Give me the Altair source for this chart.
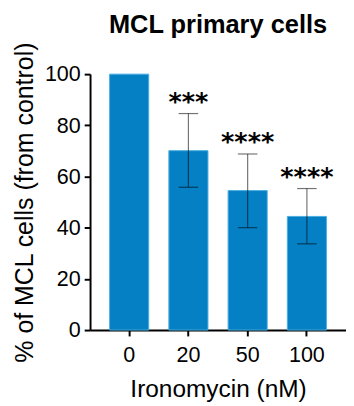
import altair as alt
import pandas as pd

conc = ["0", "20", "50", "100"]
mean = [100, 70.1, 54.5, 44.4]
err_low = [None, 55.8, 40.0, 33.7]
err_high = [None, 84.6, 68.8, 55.3]
stars = ["", "***", "****", "****"]

df = pd.DataFrame({"conc": conc, "mean": mean, "lo": err_low, "hi": err_high, "stars": stars})
df_err = df.dropna()

FONT = "Liberation Sans"
BLUE = "#0580c5"

x_enc = alt.X(
    "conc:N", sort=conc, title="Ironomycin (nM)",
    scale=alt.Scale(paddingInner=0.34, paddingOuter=0.33),
    axis=alt.Axis(labelAngle=0, labelFontSize=22, titleFontSize=25, labelFont=FONT, titleFont=FONT,
                  titleFontWeight="normal", labelColor="black", titleColor="black",
                  domainColor="black", domainWidth=2, tickColor="black", tickWidth=2, tickSize=6,
                  labelPadding=9, titlePadding=12),
)
y_scale = alt.Scale(domain=[0, 100], nice=False)

bars = alt.Chart(df).mark_bar(color=BLUE, stroke="#4aaee0", strokeWidth=1).encode(
    x=x_enc,
    y=alt.Y("mean:Q", scale=y_scale, title="% of MCL cells (from control)",
            axis=alt.Axis(values=[0, 20, 40, 60, 80, 100], labelFontSize=22, titleFontSize=25.5,
                          labelFont=FONT, titleFont=FONT, titleFontWeight="normal",
                          labelColor="black", titleColor="black", domainColor="black", domainWidth=2,
                          tickColor="black", tickWidth=2, tickSize=6, labelPadding=4, grid=False,
                          titlePadding=7)),
)

rule = alt.Chart(df_err).mark_rule(color="black", opacity=0.55, strokeWidth=1.2).encode(
    x=alt.X("conc:N", sort=conc), y=alt.Y("lo:Q", scale=y_scale), y2="hi:Q"
)
cap_hi = alt.Chart(df_err).mark_tick(color="black", opacity=0.55, thickness=1.2, size=20).encode(
    x=alt.X("conc:N", sort=conc), y=alt.Y("hi:Q", scale=y_scale)
)
cap_lo = alt.Chart(df_err).mark_tick(color="black", opacity=0.55, thickness=1.2, size=20).encode(
    x=alt.X("conc:N", sort=conc), y=alt.Y("lo:Q", scale=y_scale)
)
txt = alt.Chart(df_err).mark_text(font="DejaVu Sans", fontWeight="bold", fontSize=26,
                                   baseline="alphabetic", dy=-4, color="black").encode(
    x=alt.X("conc:N", sort=conc), y=alt.Y("hi:Q", scale=y_scale), text="stars:N"
)

chart = alt.layer(bars, rule, cap_hi, cap_lo, txt).properties(
    width=262, height=262,
    title=alt.TitleParams("MCL primary cells", fontSize=26, font=FONT, fontWeight="bold",
                          anchor="middle", frame="group", offset=4, color="black"),
    autosize=alt.AutoSizeParams(type="none"),
    padding={"left": 84, "top": 63, "right": 0, "bottom": 72},
).configure_view(stroke=None)

chart.save("out.html", embed_options={"renderer": "svg", "actions": False})
